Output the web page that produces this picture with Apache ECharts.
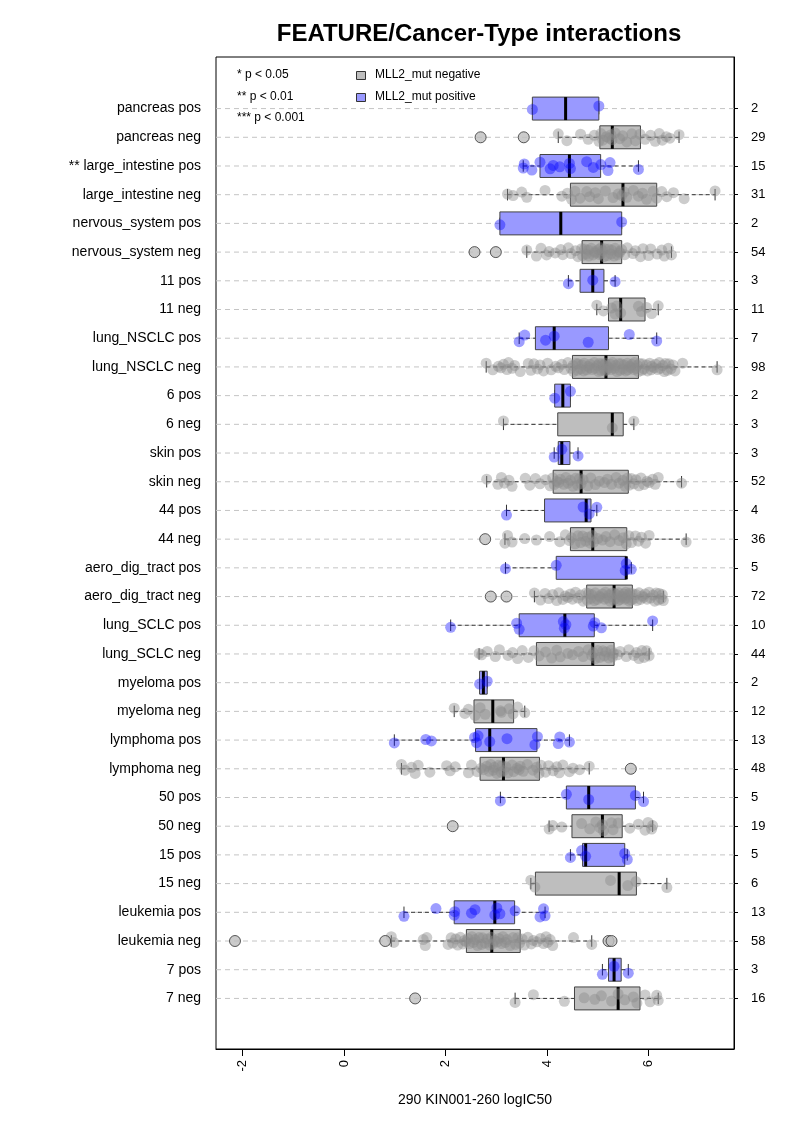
<!DOCTYPE html>
<html><head><meta charset="utf-8">
<script src="https://cdn.jsdelivr.net/npm/echarts@6/dist/echarts.min.js"></script>
<style>html,body{margin:0;padding:0;background:#fff}#chart{width:793px;height:1122px}</style>
</head><body><div id="chart"></div>
<script>
// ---------------- DATA ----------------
const categories = ['pancreas pos','pancreas neg','** large_intestine pos','large_intestine neg','nervous_system pos','nervous_system neg','11 pos','11 neg','lung_NSCLC pos','lung_NSCLC neg','6 pos','6 neg','skin pos','skin neg','44 pos','44 neg','aero_dig_tract pos','aero_dig_tract neg','lung_SCLC pos','lung_SCLC neg','myeloma pos','myeloma neg','lymphoma pos','lymphoma neg','50 pos','50 neg','15 pos','15 neg','leukemia pos','leukemia neg','7 pos','7 neg'];

const xTicks = [-2, 0, 2, 4, 6];

// box statistics (one entry per category)
const whiskerLow  = [3.71,4.22,3.53,3.22,3.07,3.60,4.42,4.98,3.45,2.80,4.15,3.14,4.14,2.81,3.20,3.17,3.18,3.75,2.10,2.66,2.67,2.17,0.99,1.13,3.08,4.04,4.46,3.68,1.18,0.93,5.09,3.37];
const q1          = [3.71,5.04,3.86,4.46,3.07,4.69,4.65,5.21,3.77,4.50,4.15,4.21,4.22,4.12,3.95,4.46,4.18,4.78,3.45,3.79,2.67,2.56,2.59,2.68,4.38,4.49,4.70,3.77,2.17,2.41,5.21,4.54];
const median      = [4.365,5.285,4.44,5.495,4.27,5.075,4.90,5.45,4.14,5.16,4.31,5.285,4.29,4.67,4.77,4.90,5.56,5.32,4.35,4.90,2.745,2.93,2.87,3.14,4.82,5.09,4.76,5.42,2.97,2.91,5.32,5.40];
const q3          = [5.02,5.84,5.055,6.16,5.47,5.47,5.12,5.93,5.21,5.80,4.46,5.50,4.45,5.60,4.865,5.57,5.56,5.68,4.93,5.32,2.82,3.34,3.80,3.85,5.74,5.48,5.53,5.76,3.36,3.47,5.46,5.83];
const whiskerHigh = [5.02,6.60,5.80,7.31,5.47,6.45,5.34,6.19,6.16,7.35,4.46,5.71,4.61,6.65,4.98,6.74,5.66,6.29,6.08,6.01,2.82,3.56,4.44,4.83,5.90,6.08,5.58,6.36,3.96,4.88,5.60,6.19];

// individual cell-line values per group
const pancreasPos = [3.71, 5.02];
const pancreasNeg = [2.69,3.54,4.22,4.39,4.66,4.81,4.93,5.02,5.06,5.10,5.17,5.22,5.26,5.28,5.34,5.43,5.49,5.57,5.67,5.74,5.83,5.93,6.04,6.13,6.21,6.27,6.35,6.42,6.60];
const largeIntPos = [3.53,3.55,3.70,3.86,4.06,4.12,4.25,4.44,4.46,4.78,4.91,5.06,5.20,5.24,5.80];
const largeIntNeg = [3.22,3.33,3.50,3.60,3.96,4.29,4.40,4.48,4.55,4.65,4.78,4.84,4.95,5.01,5.15,5.30,5.40,5.47,5.52,5.57,5.70,5.80,5.88,5.96,6.09,6.16,6.26,6.36,6.49,6.70,7.31];
const nervousPos = [3.07, 5.47];
const nervousNeg = [2.57,2.99,3.60,3.79,3.88,3.99,4.04,4.16,4.27,4.31,4.42,4.47,4.56,4.61,4.68,4.70,4.74,4.77,4.81,4.82,4.87,4.91,4.94,4.95,5.01,5.03,5.06,5.07,5.09,5.12,5.14,5.19,5.21,5.26,5.27,5.32,5.34,5.39,5.42,5.43,5.47,5.53,5.58,5.69,5.74,5.84,5.89,6.00,6.04,6.17,6.26,6.31,6.39,6.45];
const pos11 = [4.42, 4.90, 5.34];
const neg11 = [4.98,5.11,5.27,5.34,5.37,5.45,5.80,5.86,5.96,6.06,6.19];
const nsclcPos = [3.45,3.56,3.97,4.14,4.81,5.62,6.16];
const nsclcNeg = [2.80,2.93,3.04,3.09,3.14,3.21,3.24,3.31,3.36,3.47,3.63,3.68,3.74,3.81,3.86,3.93,4.01,4.08,4.17,4.22,4.29,4.34,4.41,4.47,4.51,4.52,4.57,4.60,4.61,4.66,4.69,4.72,4.73,4.78,4.81,4.84,4.85,4.89,4.93,4.94,4.99,5.02,5.03,5.06,5.08,5.11,5.12,5.14,5.15,5.17,5.19,5.22,5.25,5.26,5.29,5.33,5.35,5.38,5.41,5.44,5.46,5.50,5.52,5.55,5.58,5.59,5.63,5.65,5.67,5.71,5.72,5.75,5.78,5.80,5.82,5.87,5.88,5.91,5.96,5.98,6.02,6.05,6.06,6.11,6.14,6.18,6.21,6.23,6.28,6.31,6.33,6.37,6.40,6.44,6.48,6.52,6.67,7.35];
const pos6 = [4.15, 4.46];
const neg6 = [3.14, 5.285, 5.71];
const skinPos = [4.14, 4.29, 4.61];
const skinNeg = [2.81,3.03,3.10,3.16,3.25,3.31,3.57,3.66,3.77,3.86,3.97,4.06,4.11,4.14,4.19,4.23,4.26,4.33,4.37,4.41,4.46,4.51,4.56,4.60,4.64,4.67,4.71,4.80,4.86,4.95,5.03,5.13,5.19,5.27,5.36,5.42,5.49,5.54,5.58,5.62,5.66,5.71,5.75,5.81,5.85,5.91,5.97,6.01,6.08,6.13,6.19,6.65];
const pos44 = [3.20, 4.71, 4.83, 4.98];
const neg44 = [2.78,3.17,3.22,3.31,3.56,3.79,4.05,4.25,4.36,4.44,4.48,4.55,4.61,4.66,4.70,4.76,4.80,4.85,4.89,4.92,5.00,5.09,5.16,5.24,5.33,5.42,5.50,5.56,5.61,5.66,5.74,5.80,5.86,5.94,6.01,6.74];
const aeroPos = [3.18, 4.18, 5.54, 5.56, 5.66];
const aeroNeg = [2.89,3.20,3.75,3.87,3.96,4.03,4.11,4.19,4.23,4.31,4.36,4.41,4.46,4.50,4.56,4.61,4.66,4.71,4.77,4.79,4.82,4.86,4.88,4.93,4.95,4.99,5.03,5.05,5.09,5.13,5.15,5.19,5.22,5.24,5.28,5.31,5.33,5.35,5.37,5.40,5.41,5.44,5.47,5.48,5.51,5.53,5.55,5.57,5.59,5.62,5.63,5.66,5.68,5.71,5.75,5.77,5.81,5.84,5.88,5.90,5.93,5.97,6.01,6.04,6.09,6.12,6.15,6.19,6.21,6.25,6.27,6.29];
const sclcPos = [2.10,3.40,3.45,4.32,4.34,4.37,4.91,4.94,5.07,6.08];
const sclcNeg = [2.66,2.71,2.82,2.98,3.06,3.23,3.32,3.42,3.51,3.63,3.74,3.84,3.97,4.09,4.19,4.26,4.41,4.50,4.62,4.71,4.81,4.88,4.91,4.95,5.00,5.04,5.10,5.13,5.16,5.22,5.26,5.29,5.31,5.39,5.44,5.56,5.61,5.71,5.76,5.81,5.87,5.91,5.96,6.01];
const myelomaPos = [2.67, 2.82];
const myelomaNeg = [2.17,2.38,2.45,2.58,2.68,2.78,3.08,3.10,3.25,3.33,3.42,3.56];
const lymphomaPos = [0.99,1.61,1.72,2.57,2.61,2.64,2.87,3.21,3.76,3.81,4.22,4.25,4.44];
const lymphomaNeg = [1.13,1.20,1.33,1.40,1.46,1.69,2.02,2.09,2.19,2.45,2.51,2.62,2.70,2.75,2.81,2.86,2.89,2.94,2.96,3.01,3.04,3.09,3.11,3.14,3.19,3.23,3.31,3.34,3.41,3.45,3.47,3.53,3.61,3.72,3.79,3.84,3.88,3.97,4.03,4.12,4.19,4.24,4.31,4.44,4.51,4.64,4.83,5.65];
const pos50 = [3.08, 4.38, 4.82, 5.74, 5.90];
const neg50 = [2.14,4.04,4.11,4.29,4.68,4.84,4.96,5.04,5.09,5.11,5.27,5.30,5.40,5.63,5.80,5.93,5.99,6.06,6.08];
const pos15 = [4.46, 4.68, 4.76, 5.53, 5.58];
const neg15 = [3.68, 3.76, 5.25, 5.59, 5.75, 6.36];
const leukemiaPos = [1.18,1.81,2.17,2.18,2.51,2.58,2.97,3.01,3.07,3.37,3.86,3.93,3.96];
const leukemiaNeg = [-2.15,0.81,0.93,0.98,1.56,1.60,1.63,2.05,2.11,2.14,2.20,2.24,2.29,2.34,2.37,2.40,2.44,2.47,2.52,2.55,2.58,2.63,2.66,2.71,2.73,2.78,2.82,2.87,2.90,2.93,2.97,3.02,3.05,3.10,3.13,3.18,3.21,3.27,3.33,3.38,3.42,3.46,3.51,3.55,3.62,3.69,3.73,3.80,3.87,3.93,3.98,4.01,4.06,4.11,4.52,4.88,5.21,5.27];
const pos7 = [5.09, 5.32, 5.60];
const neg7 = [1.40,3.37,3.73,4.34,4.73,4.94,5.07,5.27,5.40,5.53,5.70,5.77,5.93,6.03,6.16,6.19];

const groupValues = [pancreasPos,pancreasNeg,largeIntPos,largeIntNeg,nervousPos,nervousNeg,pos11,neg11,nsclcPos,nsclcNeg,pos6,neg6,skinPos,skinNeg,pos44,neg44,aeroPos,aeroNeg,sclcPos,sclcNeg,myelomaPos,myelomaNeg,lymphomaPos,lymphomaNeg,pos50,neg50,pos15,neg15,leukemiaPos,leukemiaNeg,pos7,neg7];

// ---------------- PRESENTATION ----------------
const FONT = 'Liberation Sans, Arial, Helvetica, sans-serif';
const GRAY_FILL = '#bebebe', BLUE_FILL = '#9999ff';
const jitter = [0.03,-0.12,0.10,-0.05,0.14,-0.15,0.07,-0.09,0.12,-0.02,0.16,-0.13,0.05,-0.07,0.09,-0.11];
const isPos = i => categories[i].endsWith(' pos');
const catIdx = categories.map((c, i) => i);

const grayPts = [], bluePts = [], outPts = [];
groupValues.forEach((vals, i) => {
  vals.forEach((v, k) => {
    const out = v < whiskerLow[i] - 1e-6 || v > whiskerHigh[i] + 1e-6;
    if (out) { outPts.push([v, i]); return; }
    const y = i + jitter[(k * 7 + i * 3) % jitter.length];
    (isPos(i) ? bluePts : grayPts).push([v, y]);
  });
});

function renderBox(params, api) {
  const i = params.dataIndex;
  const cs = params.coordSys;
  const yc = api.coord([0, i])[1];
  const hh = Math.abs(api.size([0, 0.4])[1]);
  const X = v => api.coord([v, i])[0];
  const xl = X(whiskerLow[i]), x1 = X(q1[i]), xm = X(median[i]), x3 = X(q3[i]), xh = X(whiskerHigh[i]);
  const dark = '#333';
  const wStyle = { stroke: dark, lineWidth: 1, lineDash: [4, 3] };
  const children = [
    { type: 'line', shape: { x1: cs.x, y1: yc, x2: cs.x + cs.width, y2: yc }, style: { stroke: '#c4c4c4', lineWidth: 1, lineDash: [5, 4] } },
    { type: 'line', shape: { x1: xl, y1: yc, x2: x1, y2: yc }, style: wStyle },
    { type: 'line', shape: { x1: x3, y1: yc, x2: xh, y2: yc }, style: wStyle },
    { type: 'line', shape: { x1: xl, y1: yc - hh / 2, x2: xl, y2: yc + hh / 2 }, style: { stroke: dark, lineWidth: 1 } },
    { type: 'line', shape: { x1: xh, y1: yc - hh / 2, x2: xh, y2: yc + hh / 2 }, style: { stroke: dark, lineWidth: 1 } },
    { type: 'rect', shape: { x: x1, y: yc - hh, width: Math.max(x3 - x1, 1), height: 2 * hh }, style: { fill: isPos(i) ? BLUE_FILL : GRAY_FILL, stroke: '#444', lineWidth: 1 } },
    { type: 'line', shape: { x1: xm, y1: yc - hh, x2: xm, y2: yc + hh }, style: { stroke: '#000', lineWidth: 3 } }
  ];
  return { type: 'group', children };
}

const yMin = -1.797, yMax = 32.762;

const chart = echarts.init(document.getElementById('chart'), null, { renderer: 'canvas' });
chart.setOption({
  animation: false,
  backgroundColor: '#fff',
  textStyle: { fontFamily: FONT },
  title: {
    text: 'FEATURE/Cancer-Type interactions',
    left: 474, top: 17, textAlign: 'center',
    textStyle: { fontFamily: FONT, fontSize: 24, fontWeight: 'bold', color: '#000' }
  },
  grid: { left: 216, right: 59, top: 57, bottom: 73, show: true, borderColor: '#000', borderWidth: 1, backgroundColor: 'transparent' },
  xAxis: {
    type: 'value', min: -2.524, max: 7.683, position: 'bottom',
    axisLine: { show: true, onZero: false, lineStyle: { color: '#000' } },
    axisTick: { show: true, length: 7, customValues: xTicks, lineStyle: { color: '#000' } },
    axisLabel: { customValues: xTicks, rotate: 90, margin: 11, fontSize: 13, color: '#000', fontFamily: FONT, formatter: v => String(v) },
    splitLine: { show: false },
    name: '290 KIN001-260 logIC50', nameLocation: 'middle', nameGap: 44,
    nameTextStyle: { fontSize: 14, color: '#000', fontFamily: FONT }
  },
  yAxis: [
    {
      type: 'value', inverse: true, min: yMin, max: yMax, position: 'left',
      axisLine: { show: false, onZero: false }, axisTick: { show: false }, splitLine: { show: false },
      axisLabel: { customValues: catIdx, margin: 15, fontSize: 14, color: '#000', fontFamily: FONT, formatter: v => categories[v] }
    },
    {
      type: 'value', inverse: true, min: yMin, max: yMax, position: 'right',
      axisLine: { show: true, onZero: false, lineStyle: { color: '#000' } },
      axisTick: { show: true, length: 4, customValues: catIdx, lineStyle: { color: '#000' } },
      splitLine: { show: false },
      axisLabel: { customValues: catIdx, margin: 17, fontSize: 13, color: '#000', fontFamily: FONT, formatter: v => String(groupValues[v].length) }
    }
  ],
  graphic: [
    { type: 'text', left: 237, top: 69, style: { text: '* p < 0.05', fontSize: 12, fontFamily: FONT, fill: '#000' } },
    { type: 'text', left: 237, top: 91, style: { text: '** p < 0.01', fontSize: 12, fontFamily: FONT, fill: '#000' } },
    { type: 'text', left: 237, top: 112, style: { text: '*** p < 0.001', fontSize: 12, fontFamily: FONT, fill: '#000' } },
    { type: 'rect', left: 356, top: 71, shape: { width: 9, height: 8 }, style: { fill: GRAY_FILL, stroke: '#333', lineWidth: 1 } },
    { type: 'rect', left: 356, top: 93, shape: { width: 9, height: 8 }, style: { fill: BLUE_FILL, stroke: '#333', lineWidth: 1 } },
    { type: 'text', left: 375, top: 69, style: { text: 'MLL2_mut negative', fontSize: 12, fontFamily: FONT, fill: '#000' } },
    { type: 'text', left: 375, top: 91, style: { text: 'MLL2_mut positive', fontSize: 12, fontFamily: FONT, fill: '#000' } }
  ],
  series: [
    {
      type: 'custom', name: 'boxes', coordinateSystem: 'cartesian2d', xAxisIndex: 0, yAxisIndex: 0,
      renderItem: renderBox, data: catIdx.map(i => [median[i], i]), z: 2, silent: true
    },
    {
      type: 'scatter', name: 'MLL2_mut negative', xAxisIndex: 0, yAxisIndex: 0, data: grayPts, symbolSize: 11, z: 3,
      itemStyle: { color: 'rgba(140,140,140,0.55)', borderWidth: 0 }, silent: true
    },
    {
      type: 'scatter', name: 'MLL2_mut positive', xAxisIndex: 0, yAxisIndex: 0, data: bluePts, symbolSize: 11, z: 4,
      itemStyle: { color: 'rgba(0,0,255,0.48)', borderWidth: 0 }, silent: true
    },
    {
      type: 'scatter', name: 'outliers', xAxisIndex: 0, yAxisIndex: 0, data: outPts, symbolSize: 11, z: 5,
      itemStyle: { color: GRAY_FILL, borderColor: '#333', borderWidth: 1 }, silent: true
    }
  ]
});
</script></body></html>
